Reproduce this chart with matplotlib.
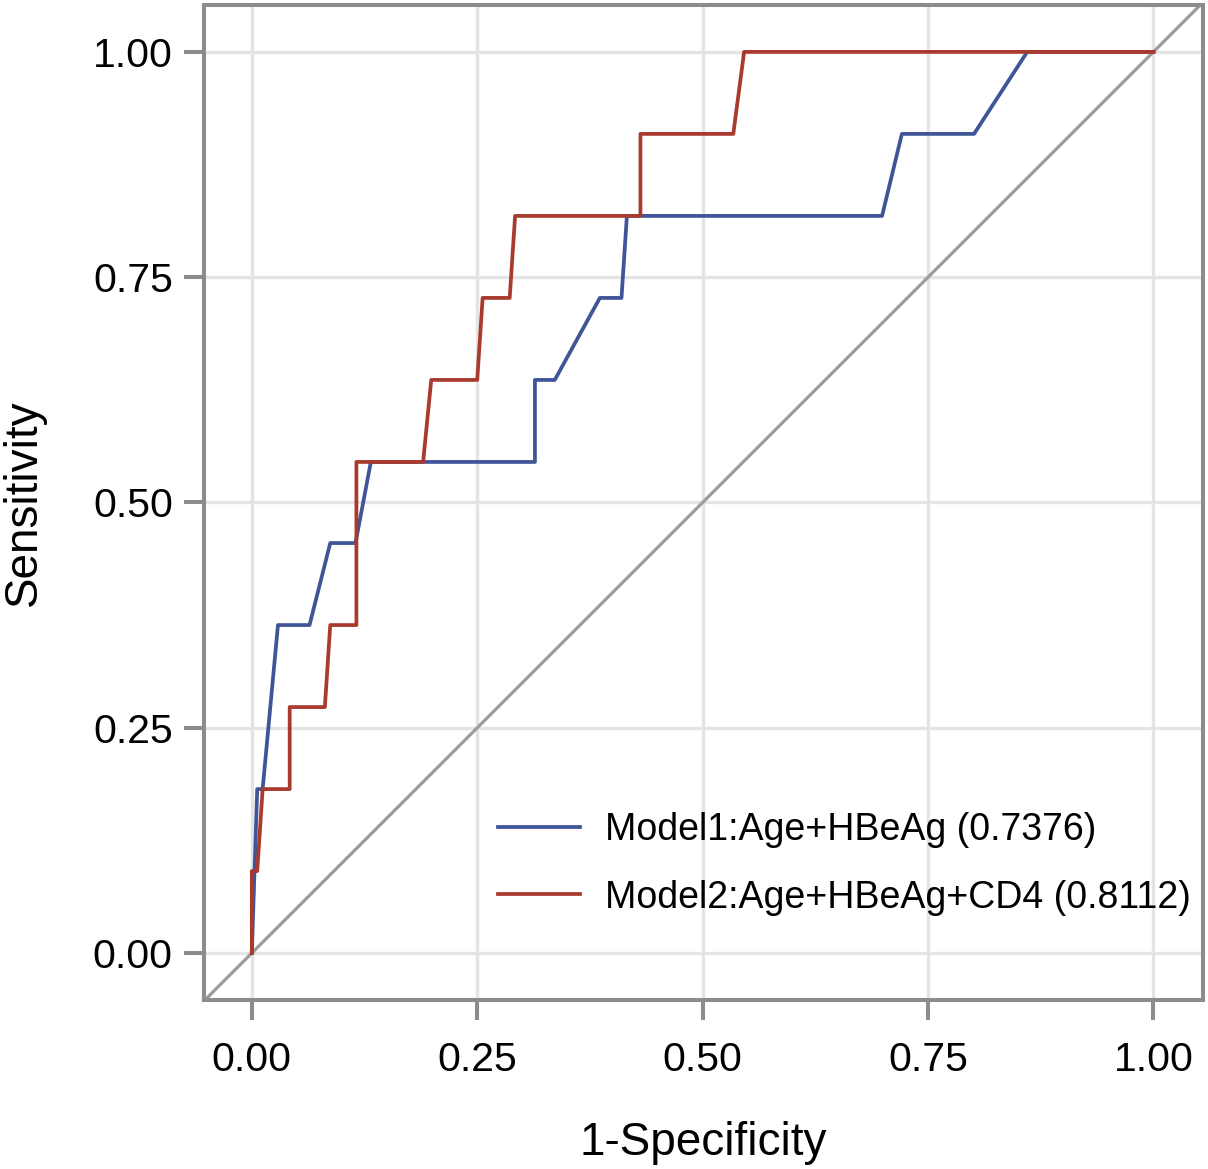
import matplotlib
matplotlib.use("Agg")
import matplotlib.pyplot as plt

# ROC curve vertices
fpr_model1 = [0.0, 0.006, 0.012, 0.029, 0.064, 0.087, 0.115, 0.132, 0.314, 0.314,
              0.336, 0.386, 0.410, 0.416, 0.699, 0.721, 0.801, 0.860, 1.0]
tpr_model1 = [0.0, 0.182, 0.182, 0.364, 0.364, 0.455, 0.455, 0.545, 0.545, 0.636,
              0.636, 0.727, 0.727, 0.818, 0.818, 0.909, 0.909, 1.0, 1.0]

fpr_model2 = [0.0, 0.0, 0.006, 0.012, 0.042, 0.042, 0.081, 0.087, 0.116, 0.116,
              0.190, 0.199, 0.250, 0.256, 0.286, 0.292, 0.431, 0.431, 0.534, 0.546, 1.0]
tpr_model2 = [0.0, 0.091, 0.091, 0.182, 0.182, 0.273, 0.273, 0.364, 0.364, 0.545,
              0.545, 0.636, 0.636, 0.727, 0.727, 0.818, 0.818, 0.909, 0.909, 1.0, 1.0]

labels = ["Model1:Age+HBeAg (0.7376)", "Model2:Age+HBeAg+CD4 (0.8112)"]
ticks = [0.0, 0.25, 0.5, 0.75, 1.0]
tick_labels = ["0.00", "0.25", "0.50", "0.75", "1.00"]


def main():
    plt.rcParams['font.family'] = ['Liberation Sans', 'DejaVu Sans']
    frame = '#8c8c8c'

    fig = plt.figure(figsize=(12.08, 11.69), dpi=100)
    ax = fig.add_axes([0.1689, 0.1446, 0.827, 0.8511])

    ax.axline((0, 0), slope=1, color='#9c9c9c', lw=2.3, zorder=2)
    ax.plot(fpr_model1, tpr_model1, color='#3f5597', lw=2.7, label=labels[0], zorder=3)
    ax.plot(fpr_model2, tpr_model2, color='#a93a2e', lw=2.7, label=labels[1], zorder=4)

    ax.set_xlim(-0.053, 1.055)
    ax.set_ylim(-0.052, 1.052)
    ax.set_xticks(ticks, tick_labels)
    ax.set_yticks(ticks, tick_labels)
    ax.grid(True, color='#e4e4e4', lw=2.4, zorder=0)
    ax.set_axisbelow(True)

    for sp in ax.spines.values():
        sp.set_color(frame)
        sp.set_linewidth(2.9)
    ax.tick_params(axis='both', direction='out', length=14.5, width=2.9,
                   color=frame, labelsize=29.5, labelcolor='black')
    ax.tick_params(axis='x', pad=15)
    ax.tick_params(axis='y', pad=8)

    ax.set_xlabel("1-Specificity", fontsize=33, labelpad=30)
    ax.set_ylabel("Sensitivity", fontsize=33, labelpad=34)

    ax.legend(loc='center left', bbox_to_anchor=(0.279, 0.137), frameon=False,
              fontsize=27, handlelength=2.2, handletextpad=0.65,
              labelspacing=0.85, borderaxespad=0)

    fig.savefig("out.png", dpi=100)


if __name__ == "__main__":
    main()
